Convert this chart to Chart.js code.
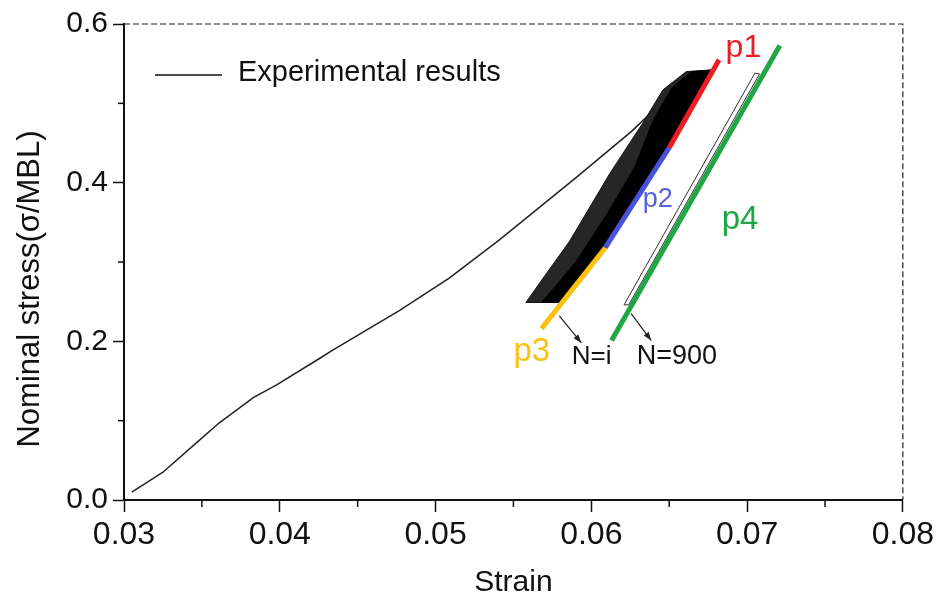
<!DOCTYPE html>
<html lang="en">
<head>
<meta charset="UTF-8">
<title>Nominal stress vs strain</title>
<script src="https://cdn.jsdelivr.net/npm/chart.js"></script>
<style>
  html, body { margin: 0; padding: 0; background: #fff; }
</style>
</head>
<body>
<canvas id="chart" width="938" height="601"></canvas>
<script>
// first loading curve (strain, nominal stress)
const loadStrain = [0.0305, 0.0325, 0.0347, 0.0361, 0.0383, 0.0398, 0.0426, 0.0434, 0.0477, 0.0509, 0.0541, 0.0573, 0.0590, 0.0626, 0.0642, 0.0652, 0.0661];
const loadStress = [0.010, 0.035, 0.073, 0.097, 0.129, 0.145, 0.179, 0.189, 0.239, 0.280, 0.328, 0.379, 0.406, 0.465, 0.495, 0.520, 0.539];

// outline of the whole band of cycles up to N=i (streaky part)
const bandStrain = [0.0558, 0.0581, 0.0609, 0.0650, 0.0677, 0.0661, 0.0646, 0.0633, 0.0612, 0.0586, 0.0571, 0.0558];
const bandStress = [0.249, 0.249, 0.318, 0.444, 0.542, 0.540, 0.517, 0.475, 0.412, 0.326, 0.285, 0.249];

// solid black core of the band
const coreStrain = [0.0568, 0.0581, 0.0609, 0.0650, 0.0677, 0.0664, 0.0652, 0.0640, 0.0628, 0.0610, 0.0590, 0.0575, 0.0568];
const coreStress = [0.249, 0.249, 0.318, 0.444, 0.542, 0.540, 0.520, 0.480, 0.420, 0.360, 0.300, 0.265, 0.249];

// cycle N=900 (thin loop)
const lastStrain = [0.0621, 0.0705, 0.0708, 0.0624, 0.0621];
const lastStress = [0.246, 0.538, 0.537, 0.246, 0.246];

// fitted segments p1..p4
const p1Strain = [0.0650, 0.0682], p1Stress = [0.444, 0.555];
const p2Strain = [0.0609, 0.0650], p2Stress = [0.318, 0.444];
const p3Strain = [0.0568, 0.0609], p3Stress = [0.216, 0.318];
const p4Strain = [0.0613, 0.0721], p4Stress = [0.201, 0.573];

// minor tick values
const xMinor = [0.035, 0.045, 0.055, 0.065, 0.075];
const yMinor = [0.1, 0.3, 0.5];

// text labels and arrows, in data units
const labels = [
  { text: 'p1', x: 0.06862, y: 0.558, color: '#ee1c25', size: 32 },
  { text: 'p2', x: 0.0633, y: 0.369, color: '#5561dd', size: 27 },
  { text: 'p3', x: 0.05500, y: 0.175, color: '#fcc010', size: 33 },
  { text: 'p4', x: 0.06837, y: 0.341, color: '#1fa647', size: 33 },
  { text: 'N=i', x: 0.05875, y: 0.171, color: '#111', size: 26 },
  { text: 'N=900', x: 0.06292, y: 0.171, color: '#111', size: 27 }
];
const arrows = [
  { from: [0.05795, 0.232], to: [0.05936, 0.198] },
  { from: [0.06256, 0.235], to: [0.06385, 0.201] }
];

function pts(xs, ys) {
  return xs.map((x, i) => ({ x: x, y: ys[i] }));
}

const FONT = '"Liberation Sans", Arial, sans-serif';

const extras = {
  id: 'extras',
  afterDatasetsDraw(chart) {
    const ctx = chart.ctx;
    const xs = chart.scales.x, ys = chart.scales.y;
    ctx.save();
    // arrows
    ctx.strokeStyle = '#222';
    ctx.fillStyle = '#222';
    ctx.lineWidth = 1.2;
    arrows.forEach(a => {
      const x1 = xs.getPixelForValue(a.from[0]), y1 = ys.getPixelForValue(a.from[1]);
      const x2 = xs.getPixelForValue(a.to[0]), y2 = ys.getPixelForValue(a.to[1]);
      const ang = Math.atan2(y2 - y1, x2 - x1);
      ctx.beginPath();
      ctx.moveTo(x1, y1);
      ctx.lineTo(x2, y2);
      ctx.stroke();
      ctx.beginPath();
      ctx.moveTo(x2, y2);
      ctx.lineTo(x2 - 9 * Math.cos(ang - 0.35), y2 - 9 * Math.sin(ang - 0.35));
      ctx.lineTo(x2 - 9 * Math.cos(ang + 0.35), y2 - 9 * Math.sin(ang + 0.35));
      ctx.closePath();
      ctx.fill();
    });
    // labels
    ctx.textAlign = 'left';
    ctx.textBaseline = 'alphabetic';
    labels.forEach(l => {
      ctx.font = l.size + 'px ' + FONT;
      ctx.fillStyle = l.color;
      ctx.fillText(l.text, xs.getPixelForValue(l.x), ys.getPixelForValue(l.y));
    });
    ctx.restore();
  },
  afterDraw(chart) {
    const ctx = chart.ctx;
    const a = chart.chartArea;
    const xs = chart.scales.x, ys = chart.scales.y;
    ctx.save();
    // dashed top and right frame
    ctx.strokeStyle = '#222';
    ctx.lineWidth = 1.2;
    ctx.setLineDash([6, 3]);
    ctx.beginPath();
    ctx.moveTo(a.left, a.top);
    ctx.lineTo(a.right, a.top);
    ctx.lineTo(a.right, a.bottom);
    ctx.stroke();
    ctx.setLineDash([]);
    // minor ticks
    ctx.lineWidth = 1.5;
    ctx.strokeStyle = '#111';
    xMinor.forEach(v => {
      const px = xs.getPixelForValue(v);
      ctx.beginPath();
      ctx.moveTo(px, a.bottom);
      ctx.lineTo(px, a.bottom + 7);
      ctx.stroke();
    });
    yMinor.forEach(v => {
      const py = ys.getPixelForValue(v);
      ctx.beginPath();
      ctx.moveTo(a.left, py);
      ctx.lineTo(a.left - 6, py);
      ctx.stroke();
    });
    // legend
    ctx.lineWidth = 1.5;
    ctx.strokeStyle = '#111';
    ctx.beginPath();
    ctx.moveTo(155, 75);
    ctx.lineTo(222, 75);
    ctx.stroke();
    ctx.fillStyle = '#111';
    ctx.font = '29px ' + FONT;
    ctx.textBaseline = 'middle';
    ctx.fillText('Experimental results', 238, 73);
    // y axis title
    ctx.translate(30, 289);
    ctx.rotate(-Math.PI / 2);
    ctx.textAlign = 'center';
    ctx.font = '31px ' + FONT;
    ctx.fillText('Nominal stress(σ/MBL)', 0, 0);
    ctx.restore();
  }
};

new Chart(document.getElementById('chart'), {
  type: 'scatter',
  data: {
    datasets: [
      { data: pts(p1Strain, p1Stress), showLine: true, borderColor: '#ee1c25', borderWidth: 5, pointRadius: 0 },
      { data: pts(p2Strain, p2Stress), showLine: true, borderColor: '#4a52dc', borderWidth: 5, pointRadius: 0 },
      { data: pts(p3Strain, p3Stress), showLine: true, borderColor: '#fcc010', borderWidth: 5, pointRadius: 0 },
      { data: pts(p4Strain, p4Stress), showLine: true, borderColor: '#1fa647', borderWidth: 5, pointRadius: 0 },
      { data: pts(lastStrain, lastStress), showLine: true, borderColor: '#333', borderWidth: 1, pointRadius: 0 },
      { data: pts(coreStrain, coreStress), showLine: true, borderColor: '#000', backgroundColor: '#000', borderWidth: 1, fill: 'shape', pointRadius: 0 },
      { data: pts(bandStrain, bandStress), showLine: true, borderColor: '#111', backgroundColor: '#262626', borderWidth: 1, fill: 'shape', pointRadius: 0 },
      { label: 'Experimental results', data: pts(loadStrain, loadStress), showLine: true, borderColor: '#222', borderWidth: 1.5, pointRadius: 0 }
    ]
  },
  options: {
    responsive: false,
    animation: false,
    devicePixelRatio: 1,
    layout: { padding: { top: 24, right: 34, left: 0, bottom: 0 } },
    plugins: { legend: { display: false }, tooltip: { enabled: false } },
    scales: {
      x: {
        type: 'linear',
        min: 0.03, max: 0.08,
        afterFit(s) { s.height = 101; },
        ticks: { stepSize: 0.01, color: '#111', padding: 4, font: { family: FONT, size: 32 }, callback: v => v.toFixed(2) },
        grid: { drawOnChartArea: false, drawTicks: true, tickLength: 12, tickColor: '#111', tickWidth: 1.5 },
        border: { display: true, color: '#111', width: 2 },
        title: { display: true, text: 'Strain', color: '#111', padding: { top: 0, bottom: 0 }, font: { family: FONT, size: 30 } }
      },
      y: {
        type: 'linear',
        min: 0, max: 0.6,
        afterFit(s) { s.width = 124; },
        ticks: { stepSize: 0.2, color: '#111', padding: 5, font: { family: FONT, size: 30 }, callback: v => v.toFixed(1) },
        grid: { drawOnChartArea: false, drawTicks: true, tickLength: 11, tickColor: '#111', tickWidth: 1.5 },
        border: { display: true, color: '#111', width: 2 }
      }
    }
  },
  plugins: [extras]
});
</script>
</body>
</html>
